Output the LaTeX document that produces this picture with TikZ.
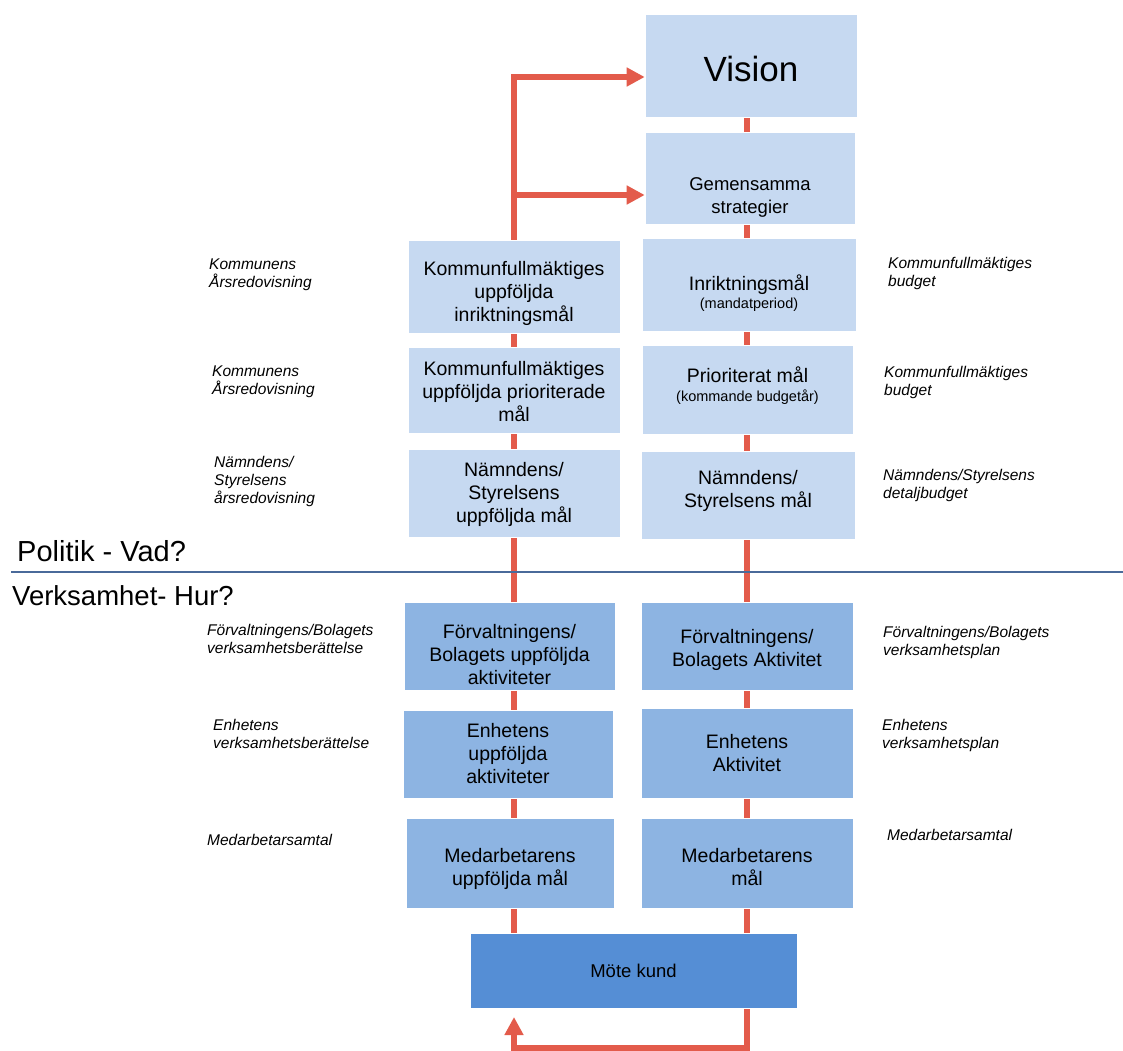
\documentclass[tikz,border=0pt]{standalone}
\usepackage{fontspec}
\setmainfont{Liberation Sans}
\usetikzlibrary{arrows.meta,backgrounds}
\definecolor{boxlight}{HTML}{C6D9F1}
\definecolor{boxmid}{HTML}{8DB4E2}
\definecolor{boxdark}{HTML}{558ED5}
\definecolor{flow}{HTML}{E35B4B}
\definecolor{divider}{HTML}{4A6A9A}
\begin{document}
\begin{tikzpicture}[x=1pt,y=-1pt,
  box/.style={draw=white, line width=0.6pt, inner sep=2pt},
  lightbox/.style={box, fill=boxlight},
  midbox/.style={box, fill=boxmid},
  darkbox/.style={box, fill=boxdark},
  boxtext/.style={align=center, inner sep=0pt, text=black,
    font=\fontsize{19.5}{23}\selectfont},
  subtext/.style={font=\fontsize{14.5}{17}\selectfont},
  side/.style={anchor=north west, inner sep=0pt, align=left,
    font=\fontsize{15.5}{18}\selectfont\itshape},
  section/.style={anchor=base west, inner sep=0pt},
  flowline/.style={draw=flow, line width=6pt, line join=miter},
  flowarrow/.style={flowline, -{Triangle[length=18pt,width=18pt]}}
]
\useasboundingbox (0,0) rectangle (1123,1050);

% top boxes
\node[lightbox, minimum width=212pt, minimum height=103pt,
  label={[boxtext, yshift=-3pt, font=\fontsize{35}{40}\selectfont]center:{Vision}}] (vision) at (751,65.5) {};
\node[lightbox, minimum width=210pt, minimum height=92pt,
  label={[boxtext, yshift=-19pt, font=\fontsize{18.5}{23}\selectfont]center:{Gemensamma\\strategier}}] (gem) at (750,178) {};

% politics rows
\node[lightbox, minimum width=212pt, minimum height=93pt,
  label={[boxtext, yshift=-7pt]center:{Kommunfullmäktiges\\uppföljda\\inriktningsmål}}] (kfi) at (514,286.5) {};
\node[lightbox, minimum width=214pt, minimum height=93pt,
  label={[boxtext, yshift=-9pt]center:{Inriktningsmål\\[-5pt]{\fontsize{14.5}{17}\selectfont (mandatperiod)}}}] (inr) at (749,284.5) {};
\node[lightbox, minimum width=212pt, minimum height=86pt,
  label={[boxtext, yshift=-2pt]center:{Kommunfullmäktiges\\uppföljda prioriterade\\mål}}] (kfp) at (514,390) {};
\node[lightbox, minimum width=211pt, minimum height=89pt,
  label={[boxtext, yshift=4pt]center:{Prioriterat mål\\[-4pt]{\fontsize{14.5}{17}\selectfont (kommande budgetår)}}}] (pri) at (747.5,389.5) {};
\node[lightbox, minimum width=212pt, minimum height=88pt,
  label={[boxtext, yshift=-1pt]center:{Nämndens/\\Styrelsens\\uppföljda mål}}] (nsu) at (514,493) {};
\node[lightbox, minimum width=214pt, minimum height=88pt,
  label={[boxtext, yshift=4pt]center:{Nämndens/\\Styrelsens mål}}] (nsm) at (748,495) {};

% operations rows
\node[midbox, minimum width=211pt, minimum height=88pt,
  label={[boxtext, yshift=-9pt]center:{Förvaltningens/\\Bolagets uppföljda\\aktiviteter}}] (fbu) at (509.5,646) {};
\node[midbox, minimum width=212pt, minimum height=88pt,
  label={[boxtext, yshift=-4pt]center:{Förvaltningens/\\Bolagets Aktivitet}}] (fba) at (747,646) {};
\node[midbox, minimum width=210pt, minimum height=88pt,
  label={[boxtext]center:{Enhetens\\uppföljda\\aktiviteter}}] (enu) at (508,754) {};
\node[midbox, minimum width=212pt, minimum height=90pt,
  label={[boxtext]center:{Enhetens\\Aktivitet}}] (ena) at (747,753) {};
\node[midbox, minimum width=208pt, minimum height=90pt,
  label={[boxtext, yshift=-6pt]center:{Medarbetarens\\uppföljda mål}}] (meu) at (510,863) {};
\node[midbox, minimum width=212pt, minimum height=90pt,
  label={[boxtext, yshift=-4pt]center:{Medarbetarens\\mål}}] (mea) at (747,863) {};

\node[darkbox, minimum width=327pt, minimum height=75pt,
  label={[boxtext, font=\fontsize{18.5}{22}\selectfont]center:{Möte kund}}] (mote) at (633.5,970.5) {};

% flow coordinates
\coordinate (lt) at (514,77);
\coordinate (lg) at (514,195);
\coordinate (rx) at (747,0);
\coordinate (rb) at (747,1048);
\coordinate (lb) at (514,1048);
\coordinate (la) at (514,1017);

\begin{scope}[on background layer]
  \draw[flowarrow] (mote.north -| lt) -- (lt) -- (lt -| vision.west);
  \draw[flowarrow] (lg) -- (lg -| gem.west);
  \draw[flowline] (vision.south -| rx) -- (mote.north -| rx);
  \draw[flowarrow] (mote.south -| rb) -- (rb) -- (lb) -- (la);
\end{scope}

% divider
\coordinate (dl) at (11,572);
\coordinate (dr) at (1123,572);
\draw[divider, line width=2pt] (dl) -- (dr);
\node[section, font=\fontsize{29}{32}\selectfont] (pol) at (17,561) {Politik - Vad?};
\node[section, font=\fontsize{27.5}{32}\selectfont] (verk) at (12,605) {Verksamhet- Hur?};

% side labels left
\node[side] (l1) at (209,259) {Kommunens\\Årsredovisning};
\node[side] (l2) at (212,366) {Kommunens\\Årsredovisning};
\node[side] (l3) at (214,456) {Nämndens/\\Styrelsens\\årsredovisning};
\node[side] (l4) at (207,624) {Förvaltningens/Bolagets\\verksamhetsberättelse};
\node[side] (l5) at (213,719) {Enhetens\\verksamhetsberättelse};
\node[side] (l6) at (207,834) {Medarbetarsamtal};

% side labels right
\node[side] (r1) at (888,257) {Kommunfullmäktiges\\budget};
\node[side] (r2) at (884,366) {Kommunfullmäktiges\\budget};
\node[side] (r3) at (883,469) {Nämndens/Styrelsens\\detaljbudget};
\node[side] (r4) at (883,626) {Förvaltningens/Bolagets\\verksamhetsplan};
\node[side] (r5) at (882,719) {Enhetens\\verksamhetsplan};
\node[side] (r6) at (887,829) {Medarbetarsamtal};
\end{tikzpicture}
\end{document}
